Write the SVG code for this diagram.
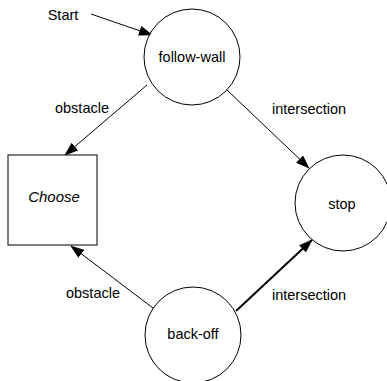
<svg xmlns="http://www.w3.org/2000/svg" width="387" height="381" viewBox="0 0 387 381">
<style>
text{font-family:"Liberation Sans",Arial,sans-serif;font-size:14.5px;fill:#000}
.n{fill:#fff;stroke:#000;stroke-width:1}
.e{fill:none;stroke:#000;stroke-width:1}
.t{stroke-width:2}
</style>
<defs>
<marker id="a" markerUnits="userSpaceOnUse" markerWidth="14" markerHeight="10" refX="13" refY="5" orient="auto">
<path d="M0,0 L14,5 L0,10 Z" fill="#000"/>
</marker>
</defs>
<rect width="387" height="381" fill="#fff"/>
<g id="connectors">
<line class="e" x1="91" y1="14" x2="152" y2="35" marker-end="url(#a)"/>
<line class="e" x1="147" y1="85" x2="65" y2="155" marker-end="url(#a)"/>
<line class="e" x1="227" y1="90" x2="309" y2="168" marker-end="url(#a)"/>
<line class="e" x1="153" y1="308" x2="71" y2="246" marker-end="url(#a)"/>
<line class="e t" x1="236" y1="311" x2="312" y2="240" marker-end="url(#a)"/>
<text x="63" y="20" text-anchor="middle">Start</text>
<text x="82" y="113" text-anchor="middle">obstacle</text>
<text x="309" y="114" text-anchor="middle">intersection</text>
<text x="93" y="298" text-anchor="middle">obstacle</text>
<text x="309" y="300" text-anchor="middle">intersection</text>
</g>
<g id="follow-wall">
<circle class="n" cx="192" cy="57" r="48"/>
<text x="192" y="62" text-anchor="middle">follow-wall</text>
</g>
<g id="choose">
<rect class="n" x="8" y="155" width="89" height="90"/>
<text x="54" y="202" text-anchor="middle" font-style="italic" style="font-size:15px">Choose</text>
</g>
<g id="stop">
<circle class="n" cx="343" cy="203" r="48"/>
<text x="342" y="209" text-anchor="middle">stop</text>
</g>
<g id="back-off">
<circle class="n" cx="193" cy="335" r="48"/>
<text x="193" y="339" text-anchor="middle">back-off</text>
</g>
</svg>
